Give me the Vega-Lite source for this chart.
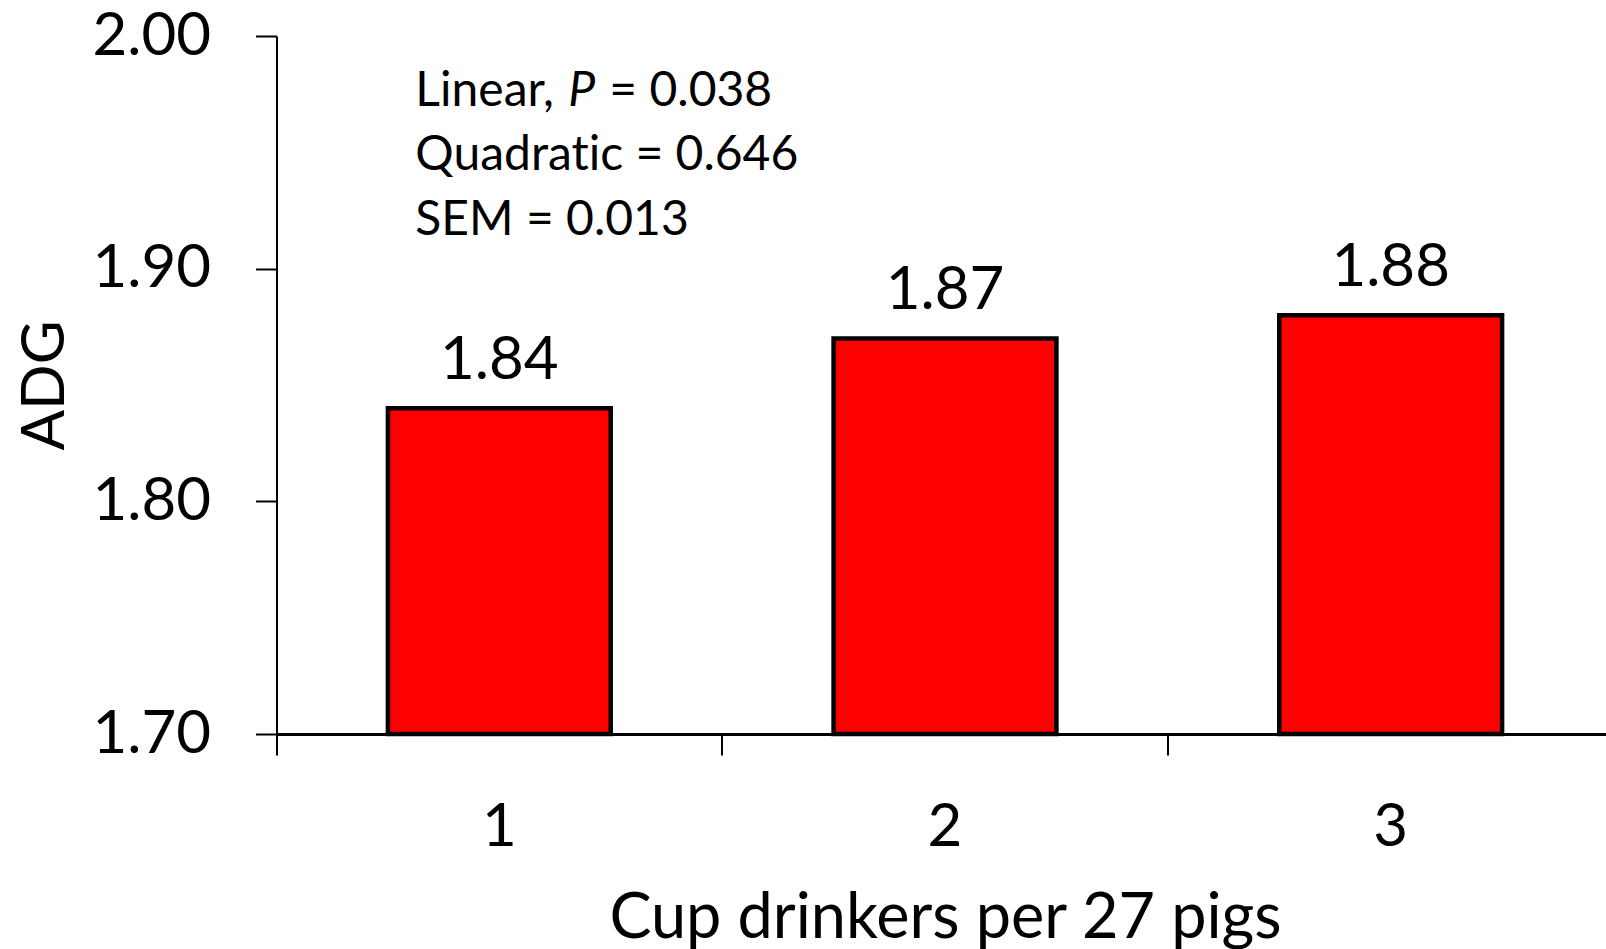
{
  "$schema": "https://vega.github.io/schema/vega-lite/v6.json",
  "autosize": "none",
  "padding": {"left": 276.5, "top": 36, "right": 0, "bottom": 215},
  "width": 1337,
  "height": 698,
  "background": "white",
  "config": {"font": "Lato", "view": {"stroke": null}},
  "datasets": {
    "bars": [
      {"drinkers": "1", "adg": 1.84},
      {"drinkers": "2", "adg": 1.87},
      {"drinkers": "3", "adg": 1.88}
    ]
  },
  "data": {"name": "bars"},
  "layer": [
    {
      "mark": {"type": "bar", "fill": "#FF0000", "stroke": "black", "strokeWidth": 4.5, "width": {"band": 0.5}},
      "encoding": {
        "x": {
          "field": "drinkers", "type": "nominal",
          "scale": {"paddingInner": 0, "paddingOuter": 0},
          "axis": {
            "title": "Cup drinkers per 27 pigs",
            "bandPosition": 0,
            "labelOffset": 0,
            "labelAngle": 0,
            "labelFontSize": 60,
            "labelColor": "black",
            "labelPadding": 43,
            "tickSize": 21,
            "tickWidth": 2,
            "tickColor": "black",
            "domainColor": "black",
            "domainWidth": 3,
            "titleFontSize": 63,
            "titleFontWeight": "normal",
            "titleColor": "black",
            "titleY": 203,
            "titleBaseline": "alphabetic"
          }
        },
        "y": {
          "field": "adg", "type": "quantitative",
          "scale": {"domain": [1.7, 2.0], "zero": false, "nice": false},
          "axis": {
            "title": "ADG",
            "values": [1.7, 1.8, 1.9, 2.0],
            "format": ".2f",
            "grid": false,
            "labelFontSize": 60,
            "labelColor": "black",
            "labelPadding": 45,
            "tickSize": 21,
            "tickWidth": 2,
            "tickColor": "black",
            "domainColor": "black",
            "domainWidth": 2,
            "titleFontSize": 60,
            "titleFontWeight": "normal",
            "titleColor": "black",
            "titleAngle": -90,
            "titleX": -213,
            "titleY": 349,
            "titleBaseline": "alphabetic"
          }
        },
        "y2": {"datum": 1.7}
      }
    },
    {
      "mark": {"type": "text", "fontSize": 60, "baseline": "alphabetic", "dy": -29, "color": "black"},
      "encoding": {
        "x": {"field": "drinkers", "type": "nominal"},
        "y": {"field": "adg", "type": "quantitative"},
        "text": {"field": "adg", "type": "quantitative", "format": ".2f"}
      }
    },
    {
      "data": {"values": [{"note": 1}]},
      "mark": {"type": "text", "fontSize": 48, "align": "left", "baseline": "alphabetic", "dx": -84, "lineHeight": 64.5, "color": "black",
        "text": ["Linear,", "Quadrat\u200cic = 0.646", "SEM = 0.013"]},
      "encoding": {"x": {"datum": "1"}, "y": {"datum": 1.9701}}
    },
    {
      "data": {"values": [{"note": 1}]},
      "mark": {"type": "text", "fontSize": 48, "fontStyle": "italic", "align": "left", "baseline": "alphabetic", "dx": 69, "color": "black", "text": "P"},
      "encoding": {"x": {"datum": "1"}, "y": {"datum": 1.9701}}
    },
    {
      "data": {"values": [{"note": 1}]},
      "mark": {"type": "text", "fontSize": 48, "align": "left", "baseline": "alphabetic", "dx": 110, "color": "black", "text": "= 0.038"},
      "encoding": {"x": {"datum": "1"}, "y": {"datum": 1.9701}}
    }
  ]
}
